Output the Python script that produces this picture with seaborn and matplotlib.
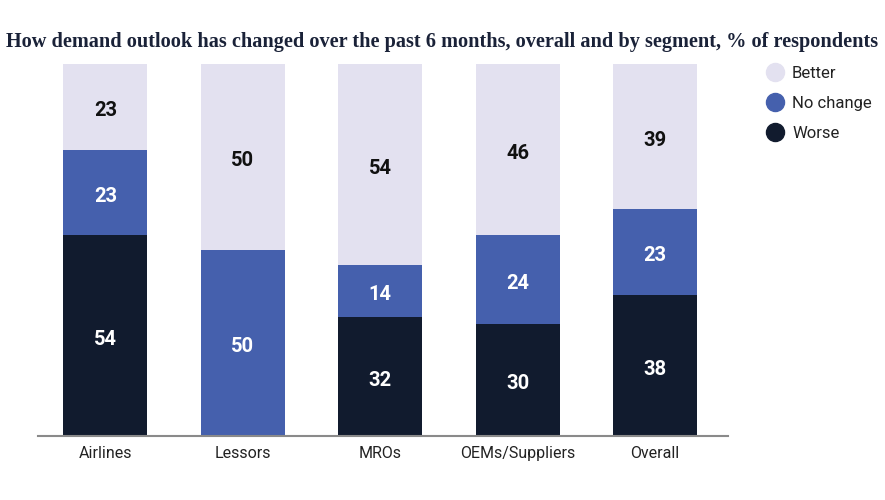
import matplotlib
matplotlib.use("Agg")
import matplotlib.pyplot as plt
from matplotlib.lines import Line2D
import seaborn as sns
import pandas as pd

categories = ["Airlines", "Lessors", "MROs", "OEMs/Suppliers", "Overall"]
worse = [54, 0, 32, 30, 38]
no_change = [23, 50, 14, 24, 23]
better = [23, 50, 54, 46, 39]
series_names = ["Better", "No change", "Worse"]
title = "How demand outlook has changed over the past 6 months, overall and by segment, % of respondents"

colors = {"Better": "#e3e1f0", "No change": "#4560ad", "Worse": "#111b2e"}
text_colors = {"Better": "#111111", "No change": "white", "Worse": "white"}

sns.set_theme(style="white")
plt.rcParams['font.family'] = ['Roboto', 'DejaVu Sans']

df = pd.DataFrame({"cat": categories, "Worse": worse, "No change": no_change, "Better": better})
df["top_nc"] = df["Worse"] + df["No change"]
df["top_b"] = df["top_nc"] + df["Better"]

fig = plt.figure(figsize=(8.85, 5), dpi=100)
ax = fig.add_axes([38/885, 1-436/500, (728-38)/885, (436-64)/500])

for col, name in [("top_b", "Better"), ("top_nc", "No change"), ("Worse", "Worse")]:
    sns.barplot(data=df, x="cat", y=col, color=colors[name], width=0.61, ax=ax,
                saturation=1, linewidth=0, edgecolor="none")

for i in range(len(categories)):
    segs = [("Worse", 0, worse[i]), ("No change", worse[i], no_change[i]),
            ("Better", worse[i] + no_change[i], better[i])]
    for name, base, val in segs:
        if val > 0:
            ax.text(i, base + val / 2 - 1.0, f"{val}", ha="center", va="center",
                    fontsize=14.5, fontweight="bold", color=text_colors[name])

ax.set_ylim(0, 100)
ax.set_xlim(-0.49, 4.53)
ax.set_xlabel("")
ax.set_ylabel("")
ax.set_yticks([])
for s in ["top", "right", "left"]:
    ax.spines[s].set_visible(False)
ax.spines["bottom"].set_color("#8a8a8a")
ax.spines["bottom"].set_linewidth(1.5)
ax.tick_params(axis="x", length=0, pad=7, labelsize=11.5, labelcolor="#222222")

handles = [Line2D([0], [0], marker="o", linestyle="", markersize=13,
                  markerfacecolor=colors[n], markeredgecolor=colors[n]) for n in series_names]
fig.legend(handles, series_names, loc="upper left", bbox_to_anchor=(747/885, 1-54/500),
           frameon=False, fontsize=12, handletextpad=0.0, labelspacing=0.92,
           labelcolor="#222222", borderpad=0.2)

fig.text(0.5, 1-42/500, title, ha="center", va="center", fontsize=14.6,
         fontweight="bold", color="#1a2238", family=["Liberation Serif", "DejaVu Serif"])

fig.savefig("out.png", dpi=100, facecolor="white")
